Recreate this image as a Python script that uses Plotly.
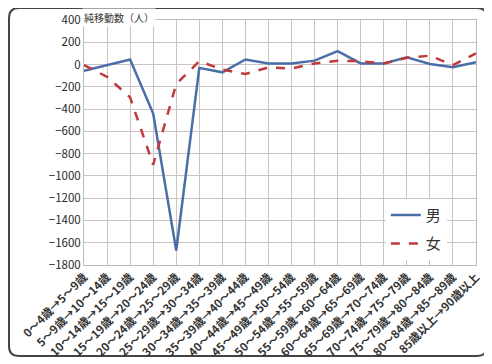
import plotly.graph_objects as go

categories = ["0～4歳→5～9歳", "5～9歳→10～14歳", "10～14歳→15～19歳", "15～19歳→20～24歳",
              "20～24歳→25～29歳", "25～29歳→30～34歳", "30～34歳→35～39歳", "35～39歳→40～44歳",
              "40～44歳→45～49歳", "45～49歳→50～54歳", "50～54歳→55～59歳", "55～59歳→60～64歳",
              "60～64歳→65～69歳", "65～69歳→70～74歳", "70～74歳→75～79歳", "75～79歳→80～84歳",
              "80～84歳→85～89歳", "85歳以上→90歳以上"]
male = [-55, -5, 45, -440, -1670, -30, -70, 45, 10, 10, 35, 120, 10, 10, 65, 5, -25, 20]
female = [-5, -110, -295, -900, -175, 30, -45, -85, -25, -35, 10, 35, 30, 10, 60, 80, -5, 100]
y_ticks = list(range(-1800, 401, 200))

font = "Noto Sans CJK JP, Noto Sans, sans-serif"

fig = go.Figure()
fig.add_trace(go.Scatter(x=categories, y=male, mode="lines", name="男", legendgroup="m",
                         line=dict(color="#4A6FA8", width=2.5)))
fig.add_trace(go.Scatter(x=categories, y=female, mode="lines", name="女", legendgroup="f",
                         line=dict(color="#C0393B", width=2.5, dash="dash")))

# rounded outer border (page px; plot area 84..476 x 20..265 px)
def px(x): return (x - 84) / 392
def py(y): return (265 - y) / 245
x0, x1, y0, y1, r = 9, 487, 8, 356, 10
path = (f"M {px(x0+r)},{py(y0)} L {px(x1-r)},{py(y0)} Q {px(x1)},{py(y0)} {px(x1)},{py(y0+r)} "
        f"L {px(x1)},{py(y1-r)} Q {px(x1)},{py(y1)} {px(x1-r)},{py(y1)} "
        f"L {px(x0+r)},{py(y1)} Q {px(x0)},{py(y1)} {px(x0)},{py(y1-r)} "
        f"L {px(x0)},{py(y0+r)} Q {px(x0)},{py(y0)} {px(x0+r)},{py(y0)} Z")

fig.update_layout(
    width=484, height=356,
    margin=dict(l=76, r=16, t=12, b=99),
    paper_bgcolor="white", plot_bgcolor="white",
    font=dict(family=font, size=10, color="#333333"),
    showlegend=True,
    legend=dict(x=0.77, y=0.27, xanchor="left", yanchor="top",
                bgcolor="white", font=dict(size=15, color="#333333"),
                tracegroupgap=6, traceorder="grouped"),
    xaxis=dict(type="category", tickangle=-45, showgrid=True, gridcolor="#CCC4C4",
               gridwidth=1, showline=True, linecolor="#BBBBBB", mirror=True,
               range=[0, len(categories) - 1],
               tickfont=dict(size=11.5, color="#333333", weight="bold"),
               ticks="", automargin=False),
    yaxis=dict(range=[-1800, 400], tickvals=y_ticks, showgrid=True, gridcolor="#CCC4C4",
               gridwidth=1, showline=True, linecolor="#BBBBBB", mirror=True,
               zeroline=False, tickfont=dict(size=11.5, color="#2a2a2a"), ticks="",
               automargin=False),
    shapes=[dict(type="path", xref="paper", yref="paper", path=path,
                 line=dict(color="#444444", width=2), layer="below")],
    annotations=[dict(text="純移動数（人）", xref="paper", yref="paper", x=px(82), y=py(17),
                      xanchor="left", yanchor="middle", showarrow=False,
                      font=dict(size=10, color="#333333"), bgcolor="white")],
)

fig.write_html("out.html")
